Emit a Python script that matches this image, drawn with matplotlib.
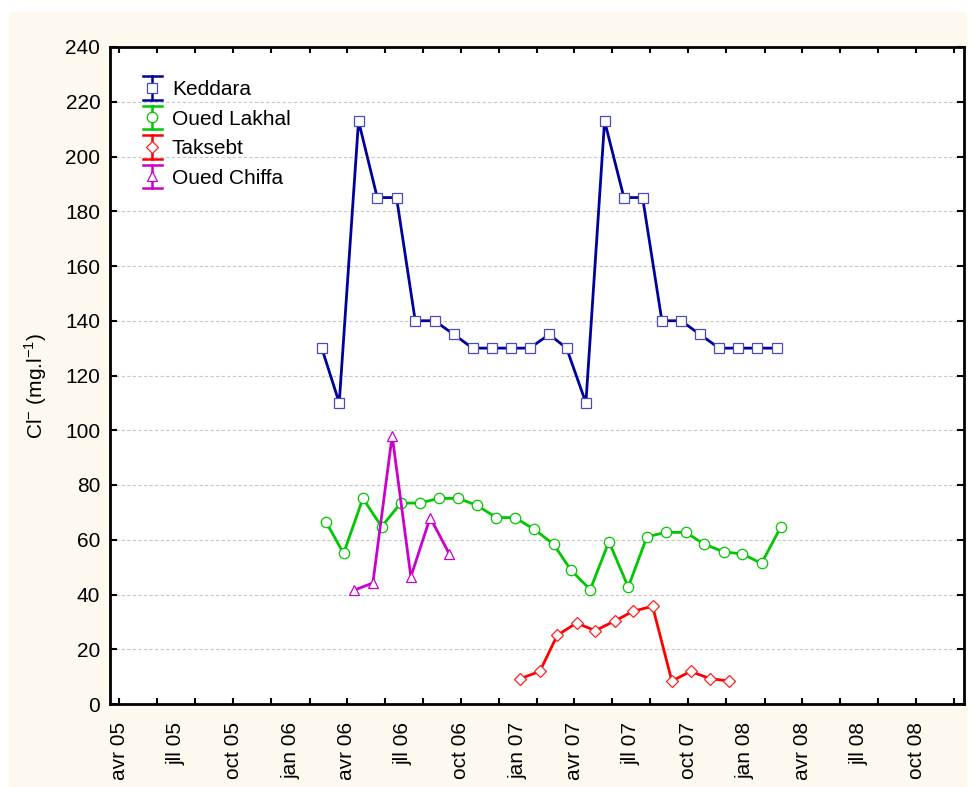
import numpy as np
import pandas as pd
import matplotlib
matplotlib.use('Agg')
import matplotlib.pyplot as plt
import matplotlib.dates as mdates
from matplotlib.patches import Rectangle
from matplotlib.lines import Line2D
from matplotlib.legend_handler import HandlerBase

plt.rcParams['font.family'] = ['Liberation Sans', 'DejaVu Sans']

# monthly Cl- values (mg/l)
keddara_dates = pd.date_range('2006-02-01', '2008-02-01', freq='MS') + pd.Timedelta(days=19)
keddara = [130, 110, 213, 185, 185, 140, 140, 135, 130, 130, 130, 130, 135,
           130, 110, 213, 185, 185, 140, 140, 135, 130, 130, 130, 130]

lakhal_dates = pd.date_range('2006-02-01', '2008-02-01', freq='MS') + pd.Timedelta(days=26)
lakhal = [66.4, 55, 75.1, 64.8, 73.4, 73.4, 75.1, 75.1, 72.6, 68.1, 68.1, 63.8, 58.4,
          48.9, 41.8, 59.3, 42.7, 61.1, 62.7, 62.7, 58.4, 55.6, 54.8, 51.4, 64.7]

taksebt_dates = pd.date_range('2007-01-01', '2007-12-01', freq='MS') + pd.Timedelta(days=4)
taksebt = [9.3, 11.9, 25.1, 29.6, 26.8, 30.3, 33.9, 35.7, 8.4, 11.9, 9.3, 8.4]

chiffa_dates = pd.date_range('2006-04-01', '2006-09-01', freq='MS') + pd.Timedelta(days=12)
chiffa = [41.6, 44.2, 98.0, 46.5, 68.1, 54.7]

xtick_dates = pd.date_range('2005-04-01', '2008-10-01', freq='3MS')
xtick_labels = ['avr 05', 'jll 05', 'oct 05', 'jan 06', 'avr 06', 'jll 06', 'oct 06',
                'jan 07', 'avr 07', 'jll 07', 'oct 07', 'jan 08', 'avr 08', 'jll 08', 'oct 08']

series = [
    ('Keddara', keddara_dates, keddara, '#00009C', '#4A4AC0', 's'),
    ('Oued Lakhal', lakhal_dates, lakhal, '#00C800', '#00C800', 'o'),
    ('Taksebt', taksebt_dates, taksebt, '#FF0000', '#FF2020', 'D'),
    ('Oued Chiffa', chiffa_dates, chiffa, '#CC00CC', '#CC00CC', '^'),
]


class ErrBarHandler(HandlerBase):
    # legend key like Statistica: vertical bar with caps and the marker in the middle
    def create_artists(self, legend, orig, xdescent, ydescent, width, height, fontsize, trans):
        c = orig.get_color()
        x = width / 2 - xdescent
        y = height / 2 - ydescent
        h = 0.56 * fontsize
        w = 0.45 * fontsize
        bar = Line2D([x, x], [y - h, y + h], color=c, lw=1.8)
        top = Line2D([x - w, x + w], [y + h, y + h], color=c, lw=1.8)
        bot = Line2D([x - w, x + w], [y - h, y - h], color=c, lw=1.8)
        mk = Line2D([x], [y], ls='none', marker=orig.get_marker(), ms=orig.get_markersize(),
                    mfc='white', mec=orig.get_markeredgecolor(), mew=orig.get_markeredgewidth())
        arts = [bar, top, bot, mk]
        for a in arts:
            a.set_transform(trans)
        return arts


fig = plt.figure(figsize=(9.76, 7.87), dpi=100, facecolor='white')
fig.patches.append(Rectangle((9 / 976, 0), (967 - 9) / 976, 1 - 12 / 787,
                             transform=fig.transFigure, facecolor='#FEF9EE',
                             edgecolor='none', zorder=-10))
ax = fig.add_axes([110 / 976, 1 - 704 / 787, (964 - 110) / 976, (704 - 47) / 787])
ax.set_facecolor('white')

handles = []
for name, d, v, c, ec, m in series:
    ms = 6.5 if m == 'D' else 7.5
    ln, = ax.plot(d, v, color=c, lw=2, marker=m, ms=ms, mfc='white', mec=ec, mew=0.9,
                  zorder=3, label=name)
    handles.append(ln)

ax.set_ylim(0, 240)
ax.set_yticks(np.arange(0, 241, 20))
ax.set_xlim(pd.Timestamp('2005-03-17'), pd.Timestamp('2008-12-17'))
ax.set_xticks(xtick_dates)
ax.set_xticklabels(xtick_labels, rotation=90)
ax.xaxis.set_minor_locator(mdates.MonthLocator(bymonth=[2, 4, 6, 8, 10, 12]))
ax.xaxis.remove_overlapping_locs = False
ax.tick_params(axis='x', which='major', length=0, pad=13, labelsize=15)
ax.tick_params(axis='x', which='minor', direction='in', length=4, width=1.5, top=True)
ax.tick_params(axis='y', direction='in', length=5, width=1.5, right=True, pad=7, labelsize=15)

ax.yaxis.grid(True, linestyle=(0, (3, 2)), color='#C8C8C8', lw=0.8)
ax.set_axisbelow(True)
for sp in ax.spines.values():
    sp.set_linewidth(2)

ax.set_ylabel('Cl$^{\\mathregular{-}}$ (mg.l$^{\\mathregular{-1}}$)', fontsize=15)
ax.yaxis.set_label_coords(-0.071, 0.485)

ax.legend(handles=handles, loc='upper left', bbox_to_anchor=(0.025, 0.962),
          frameon=False, fontsize=15, handlelength=1.2, handletextpad=0.35,
          labelspacing=0.5, borderaxespad=0,
          handler_map={Line2D: ErrBarHandler()})

fig.savefig('out.png', dpi=100, facecolor=fig.get_facecolor())
